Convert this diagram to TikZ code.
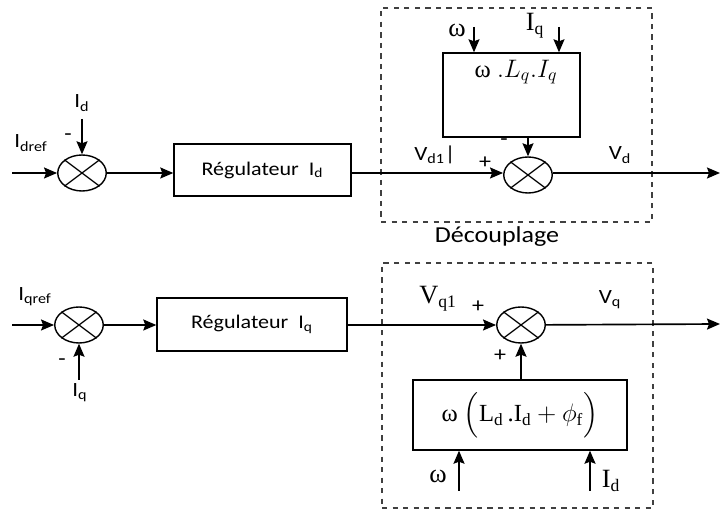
\documentclass[tikz,border=0pt]{standalone}
\usepackage{amsmath}
\usepackage{fontspec}
\setmainfont{Carlito}[FakeStretch=1.14]
\newfontfamily\tnr{Liberation Serif}
\usetikzlibrary{arrows.meta,shapes.geometric,positioning}

\tikzset{
  sumnode/.style={ellipse, draw, line width=0.8pt, minimum width=0.97cm, minimum height=0.72cm, inner sep=0pt},
  regbox/.style={rectangle, draw, line width=0.8pt, inner sep=0pt, font=\fontsize{11}{13}\selectfont},
  decbox/.style={rectangle, draw=black!75, dashed, line width=0.7pt, inner sep=0pt},
  lbl/.style={inner sep=1pt, font=\fontsize{11.5}{13}\selectfont},
  serlbl/.style={inner sep=1pt, font=\tnr\fontsize{15}{17}\selectfont},
  sgn/.style={inner sep=0pt, font=\fontsize{12}{14}\selectfont}
}

\newcommand{\crossit}[1]{%
  \draw[-, line width=0.7pt] (#1.north east) -- (#1.south west) (#1.north west) -- (#1.south east);}
\newcommand{\omg}{{\tnr ω}}

\begin{document}
\begin{tikzpicture}[->, >={Stealth[length=2.6mm,width=2.2mm,inset=0.4mm]}, line width=0.95pt]
\path[use as bounding box] (0,0) rectangle (14.42,-10.2);
% axe d
\coordinate (in1) at (0.24,-3.46);
\node[sumnode] (S1) at (1.64,-3.46) {};
\node[regbox, minimum width=3.54cm, minimum height=1.04cm] (RegD) at (5.25,-3.40) {Régulateur\ \ I\textsubscript{d}};
\node[sumnode] (S2) at (10.56,-3.50) {};
\coordinate (out1) at (14.40,-3.46);
\node[decbox, minimum width=5.42cm, minimum height=4.28cm] (DecD) at (10.33,-2.30) {};
\node[regbox, minimum width=2.74cm, minimum height=1.68cm] (LqBox) at (10.23,-1.90) {};
\node[font=\fontsize{14}{16}\selectfont] (LqTxt) at (10.32,-1.44) {\omg\ $.L_q.I_q$};
\coordinate (wq) at (9.48,-0.54);
\coordinate (iq) at (11.18,-0.54);
\coordinate (idin) at (1.64,-2.38);
\crossit{S1}
\crossit{S2}
\draw (in1) -- (S1);
\draw (idin) -- (S1);
\draw (S1) -- (RegD.west |- S1);
\draw (RegD.east |- in1) -- (S2.west |- in1);
\draw (S2.east |- in1) -- (out1);
\draw (wq) -- (wq |- LqBox.north);
\draw (iq) -- (iq |- LqBox.north);
\draw (LqBox.south -| S2.north) -- (S2.north);
\node[lbl] (IdLbl) at (1.64,-2.06) {I\textsubscript{d}};
\node[lbl] (IdrefLbl) at (0.62,-2.86) {I\textsubscript{dref}};
\node[sgn] (m1) at (1.36,-2.74) {-};
\node[lbl] (Vd1Lbl) at (8.70,-3.10) {V\textsubscript{d1}|};
\node[sgn] (p1) at (9.70,-3.26) {+};
\node[sgn] (m2) at (10.08,-2.84) {-};
\node[lbl] (VdLbl) at (12.40,-3.10) {V\textsubscript{d}};
\node[serlbl] (wLbl1) at (9.14,-0.60) {ω};
\node[serlbl] (IqLbl1) at (10.70,-0.52) {I\textsubscript{\fontsize{10}{10}\selectfont q}};
\node[lbl, font=\fontsize{13}{15}\selectfont] (DecLbl) at (9.94,-4.74) {Découplage};
% axe q
\coordinate (in2) at (0.24,-6.50);
\node[sumnode] (S3) at (1.58,-6.50) {};
\node[regbox, minimum width=3.80cm, minimum height=1.06cm] (RegQ) at (5.04,-6.49) {Régulateur\ \ I\textsubscript{q}};
\node[sumnode] (S4) at (10.42,-6.50) {};
\coordinate (out2) at (14.40,-6.48);
\node[decbox, minimum width=5.42cm, minimum height=4.90cm] (DecQ) at (10.35,-7.71) {};
\node[regbox, minimum width=4.28cm, minimum height=1.40cm, font=\tnr\fontsize{14}{16}\selectfont] (PhiBox) at (10.40,-8.30) {ω $\Bigl(\text{\tnr L\textsubscript{d}\,.I\textsubscript{d}}+\phi_{\text{\tnr f}}\Bigr)$};
\coordinate (iqin) at (1.58,-7.60);
\coordinate (wd) at (9.18,-9.82);
\coordinate (id) at (11.80,-9.82);
\crossit{S3}
\crossit{S4}
\draw (in2) -- (S3);
\draw (iqin) -- (S3);
\draw (S3) -- (RegQ.west |- S3);
\draw (RegQ.east |- S4) -- (S4);
\draw (S4) -- (out2);
\draw (PhiBox.north -| S4.south) -- (S4.south);
\draw (wd) -- (wd |- PhiBox.south);
\draw (id) -- (id |- PhiBox.south);
\node[lbl] (IqrefLbl) at (0.70,-5.94) {I\textsubscript{qref}};
\node[sgn] (m3) at (1.24,-7.24) {-};
\node[lbl] (IqLbl2) at (1.60,-7.86) {I\textsubscript{q}};
\node[serlbl] (Vq1Lbl) at (8.76,-5.98) {V\textsubscript{\fontsize{10}{10}\selectfont q1}};
\node[sgn] (p2) at (9.56,-6.14) {+};
\node[sgn] (p3) at (10.00,-7.12) {+};
\node[lbl] (VqLbl) at (12.20,-6.00) {V\textsubscript{q}};
\node[serlbl] (wLbl2) at (8.76,-9.52) {ω};
\node[serlbl] (IdLbl2) at (12.22,-9.62) {I\textsubscript{\fontsize{10}{10}\selectfont d}};
\end{tikzpicture}
\end{document}
